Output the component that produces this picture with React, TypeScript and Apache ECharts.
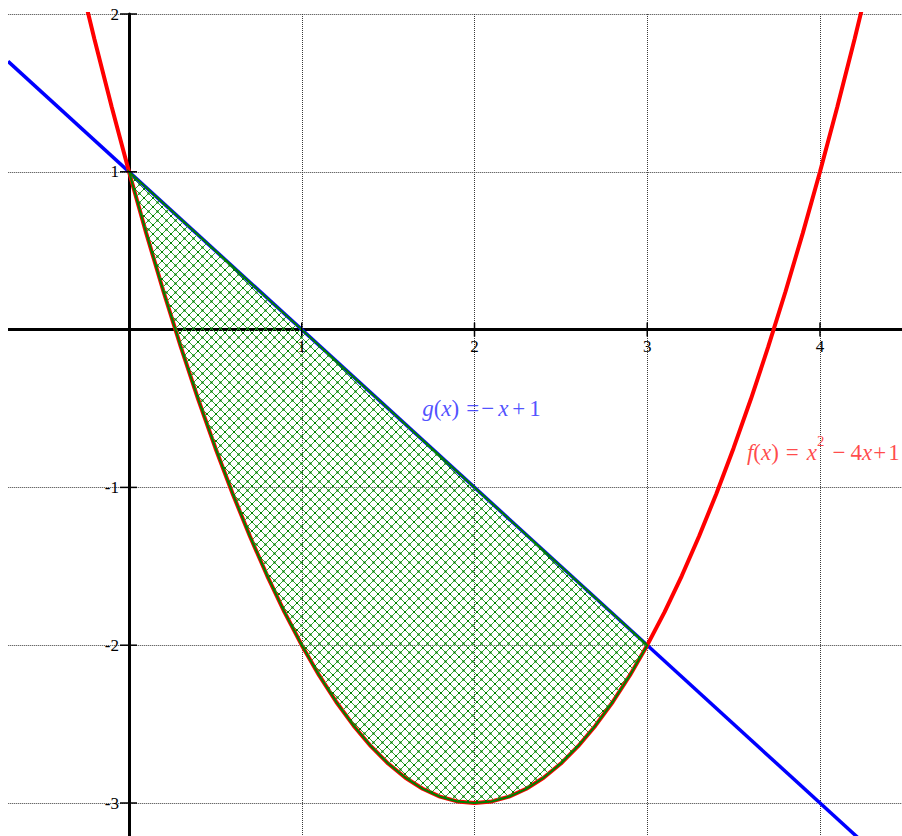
import React, { useEffect, useRef } from 'react';
import * as echarts from 'echarts';

// f(x) = x^2 - 4x + 1, sampled values read along the red parabola
const fX = [-0.3, -0.2, -0.1, 0, 0.1, 0.2, 0.3, 0.4, 0.5, 0.6, 0.7, 0.8, 0.9, 1.0, 1.1, 1.2, 1.3, 1.4, 1.5, 1.6, 1.7, 1.8, 1.9, 2.0, 2.1, 2.2, 2.3, 2.4, 2.5, 2.6, 2.7, 2.8, 2.9, 3.0, 3.1, 3.2, 3.3, 3.4, 3.5, 3.6, 3.7, 3.8, 3.9, 4.0, 4.1, 4.2, 4.3];
const fY = [2.29, 1.84, 1.41, 1, 0.61, 0.24, -0.11, -0.44, -0.75, -1.04, -1.31, -1.56, -1.79, -2, -2.19, -2.36, -2.51, -2.64, -2.75, -2.84, -2.91, -2.96, -2.99, -3, -2.99, -2.96, -2.91, -2.84, -2.75, -2.64, -2.51, -2.36, -2.19, -2, -1.79, -1.56, -1.31, -1.04, -0.75, -0.44, -0.11, 0.24, 0.61, 1, 1.41, 1.84, 2.29];

// g(x) = -x + 1, straight blue line
const gX = [-0.7, 4.3];
const gY = [1.7, -3.3];

// shaded region between the curves
const regionFrom = 0;
const regionTo = 3;

// axis tick values and their labels
const xTickValues = [1, 2, 3, 4];
const xTickLabels = ['1', '2', '3', '4'];
const yTickValues = [-3, -2, -1, 1, 2];
const yTickLabels = ['-3', '-2', '-1', '1', '2'];

// annotation anchors (data coordinates)
const gLabelAt = [1.70, -0.5];
const fLabelAt = [3.58, -0.78];

const SERIF = "'Liberation Serif', 'Times New Roman', serif";

export default function App() {
  const ref = useRef<HTMLDivElement>(null);

  useEffect(() => {
    const el = ref.current;
    if (!el) return;
    const chart = echarts.init(el, null, { renderer: 'svg' });

    const tile = document.createElement('canvas');
    tile.width = 9;
    tile.height = 9;
    const ctx = tile.getContext('2d');
    if (ctx) {
      ctx.strokeStyle = 'rgb(50,165,50)';
      ctx.lineWidth = 1;
      ctx.beginPath();
      ctx.moveTo(0, 0);
      ctx.lineTo(9, 9);
      ctx.moveTo(9, 0);
      ctx.lineTo(0, 9);
      ctx.stroke();
      ctx.fillStyle = '#008000';
      ctx.fillRect(3.5, 3.5, 2, 2);
      ctx.fillRect(-1, -1, 2, 2);
      ctx.fillRect(8, -1, 2, 2);
      ctx.fillRect(-1, 8, 2, 2);
      ctx.fillRect(8, 8, 2, 2);
    }
    const hatch: any = { image: tile, repeat: 'repeat', imageWidth: 9, imageHeight: 9 };

    const fPoints = fX.map((x, i) => [x, fY[i]]);
    const gPoints = gX.map((x, i) => [x, gY[i]]);
    const regionPoints = fPoints.filter(([x]) => x >= regionFrom - 1e-9 && x <= regionTo + 1e-9);

    const gridLine = { show: true, lineStyle: { color: '#3a3a3a', width: 1, type: [1, 1] as any } };

    const FS = 23;
    const richFor = (color: string) => {
      const base = { fontFamily: SERIF, fontSize: FS, color, lineHeight: 38 };
      return {
        i: { ...base, fontStyle: 'italic' },
        n: base,
        relA: { ...base, padding: [0, 2, 0, 7] },
        neg: { ...base, padding: [0, 4, 0, 0] },
        binA: { ...base, padding: [0, 4, 0, 4] },
        relB: { ...base, padding: [0, 8, 0, 7] },
        binB: { ...base, padding: [0, 5, 0, 8] },
        binC: { ...base, padding: [0, 2, 0, 1] },
        sup: { fontFamily: SERIF, fontSize: 15, color, lineHeight: 18, verticalAlign: 'top' },
      };
    };

    chart.setOption({
      animation: false,
      grid: { left: -43.75, right: -90.75, top: 14, bottom: -124.8, outerBoundsMode: 'none', containLabel: false },
      xAxis: {
        type: 'value',
        min: -1,
        max: 5,
        interval: 1,
        axisLine: { onZero: true, lineStyle: { color: '#000', width: 3 } },
        axisTick: { show: false },
        axisLabel: { show: false },
        splitLine: gridLine,
      },
      yAxis: {
        type: 'value',
        min: -4,
        max: 2,
        interval: 1,
        axisLine: { onZero: true, lineStyle: { color: '#000', width: 3 } },
        axisTick: { show: false },
        axisLabel: { show: false },
        splitLine: gridLine,
      },
      series: [
        {
          type: 'line',
          data: gPoints,
          showSymbol: false,
          symbol: 'none',
          lineStyle: { color: '#0000ff', width: 3.5 },
          z: 3,
        },
        {
          type: 'line',
          data: fPoints,
          showSymbol: false,
          symbol: 'none',
          lineStyle: { color: '#ff0000', width: 4 },
          z: 4,
        },
        {
          type: 'custom',
          z: 5,
          data: [[regionFrom, 0]],
          renderItem: (_p: any, api: any) => ({
            type: 'polygon',
            shape: { points: regionPoints.map((p) => api.coord(p)) },
            style: { fill: hatch, stroke: '#008000', lineWidth: 2 },
          }),
        },
        {
          type: 'custom',
          z: 6,
          data: xTickValues.map((v, i) => [v, 0, i]),
          renderItem: (_p: any, api: any) => {
            const c = api.coord([api.value(0), api.value(1)]);
            return {
              type: 'group',
              children: [
                {
                  type: 'line',
                  shape: { x1: c[0], y1: c[1] - 7, x2: c[0], y2: c[1] + 7 },
                  style: { stroke: '#000', lineWidth: 1.5 },
                },
                {
                  type: 'text',
                  x: c[0],
                  y: c[1] + 8,
                  style: {
                    text: xTickLabels[api.value(2)],
                    fill: '#000',
                    fontFamily: SERIF,
                    fontSize: 17,
                    align: 'center',
                    verticalAlign: 'top',
                  },
                },
              ],
            };
          },
        },
        {
          type: 'custom',
          z: 6,
          data: yTickValues.map((v, i) => [0, v, i]),
          renderItem: (_p: any, api: any) => {
            const c = api.coord([api.value(0), api.value(1)]);
            return {
              type: 'group',
              children: [
                {
                  type: 'line',
                  shape: { x1: c[0] - 9, y1: c[1], x2: c[0] + 8, y2: c[1] },
                  style: { stroke: '#000', lineWidth: 1.5 },
                },
                {
                  type: 'text',
                  x: c[0] - 10,
                  y: c[1],
                  style: {
                    text: yTickLabels[api.value(2)],
                    fill: '#000',
                    fontFamily: SERIF,
                    fontSize: 17,
                    align: 'right',
                    verticalAlign: 'middle',
                  },
                },
              ],
            };
          },
        },
        {
          type: 'scatter',
          z: 7,
          symbolSize: 1,
          itemStyle: { color: 'rgba(0,0,0,0)' },
          data: [
            {
              value: gLabelAt,
              label: {
                show: true,
                position: [0, 0],
                align: 'left',
                verticalAlign: 'middle',
                formatter: '{i|g}{n|(}{i|x}{n|)}{relA|=}{neg|−}{i|x}{binA|+}{n|1}',
                rich: richFor('#2323ff'),
              },
            },
            {
              value: fLabelAt,
              label: {
                show: true,
                position: [0, 0],
                align: 'left',
                verticalAlign: 'middle',
                formatter: '{i|f}{n|(}{i|x}{n|)}{relB|=}{i|x}{sup|2}{binB|−}{n|4}{i|x}{binC|+}{n|1}',
                rich: richFor('#ff1a1a'),
              },
            },
          ],
        },
      ],
      graphic: [
        {
          type: 'rect',
          left: 0,
          top: 0,
          z: 100,
          shape: { width: 8, height: 836 },
          style: { fill: '#fff' },
        },
      ],
    });

    return () => {
      chart.dispose();
    };
  }, []);

  return (
    <div
      ref={ref}
      style={{ position: 'absolute', left: 0, top: 0, width: 902, height: 836, background: '#fff' }}
    />
  );
}
